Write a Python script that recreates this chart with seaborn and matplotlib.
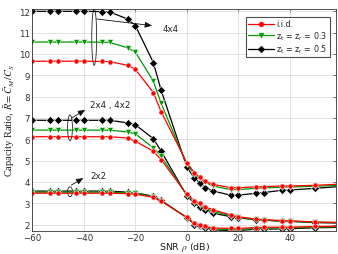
import numpy as np
import pandas as pd
import matplotlib
matplotlib.use("Agg")
import matplotlib.pyplot as plt
from matplotlib.lines import Line2D
from matplotlib.patches import Ellipse
import seaborn as sns

# --- Data ---
snr = [-60, -53, -50, -43, -40, -33, -30, -23, -20, -13, -10, 0, 3, 5, 7, 10, 17, 20, 27, 30, 37, 40, 50, 60]

iid_4x4 = [9.66, 9.66, 9.66, 9.66, 9.66, 9.65, 9.64, 9.47, 9.28, 8.19, 7.30, 4.90, 4.43, 4.23, 4.05, 3.89,
           3.73, 3.73, 3.77, 3.78, 3.81, 3.81, 3.84, 3.90]
z03_4x4 = [10.56, 10.56, 10.56, 10.56, 10.56, 10.55, 10.54, 10.29, 10.09, 8.73, 7.69, 4.82, 4.35, 4.17, 4.00, 3.81,
           3.64, 3.64, 3.70, 3.72, 3.75, 3.76, 3.80, 3.84]
z05_4x4 = [12.0, 12.0, 12.0, 12.0, 12.0, 11.99, 11.97, 11.64, 11.33, 9.60, 8.31, 4.70, 4.17, 3.97, 3.73, 3.58,
           3.38, 3.38, 3.47, 3.50, 3.61, 3.62, 3.70, 3.79]

iid_2x4 = [6.12, 6.12, 6.12, 6.12, 6.12, 6.12, 6.12, 6.06, 5.91, 5.44, 5.05, 3.42, 3.11, 2.99, 2.84, 2.70,
           2.45, 2.37, 2.26, 2.23, 2.19, 2.18, 2.12, 2.10]
z03_2x4 = [6.43, 6.43, 6.43, 6.43, 6.43, 6.43, 6.43, 6.34, 6.25, 5.60, 5.21, 3.39, 3.05, 2.92, 2.77, 2.63,
           2.41, 2.34, 2.24, 2.21, 2.17, 2.16, 2.11, 2.09]
z05_2x4 = [6.89, 6.89, 6.89, 6.89, 6.89, 6.89, 6.89, 6.77, 6.68, 6.03, 5.45, 3.35, 2.99, 2.84, 2.68, 2.54,
           2.37, 2.31, 2.23, 2.21, 2.15, 2.15, 2.09, 2.07]

iid_2x2 = [3.47, 3.47, 3.47, 3.47, 3.47, 3.47, 3.47, 3.45, 3.42, 3.28, 3.10, 2.34, 2.06, 1.98, 1.91, 1.84,
           1.82, 1.82, 1.86, 1.87, 1.88, 1.88, 1.91, 1.93]
z03_2x2 = [3.52, 3.52, 3.52, 3.52, 3.52, 3.52, 3.52, 3.49, 3.46, 3.31, 3.12, 2.33, 2.03, 1.95, 1.88, 1.80,
           1.77, 1.77, 1.82, 1.83, 1.85, 1.85, 1.88, 1.90]
z05_2x2 = [3.57, 3.57, 3.57, 3.57, 3.57, 3.57, 3.57, 3.52, 3.49, 3.33, 3.14, 2.32, 2.00, 1.91, 1.84, 1.75,
           1.72, 1.72, 1.78, 1.78, 1.80, 1.81, 1.85, 1.87]

models = ['i.i.d.', 'z$\\mathregular{_t}$ = z$\\mathregular{_r}$ = 0.3',
          'z$\\mathregular{_t}$ = z$\\mathregular{_r}$ = 0.5']
series = {
    ('4x4', models[2]): z05_4x4, ('4x4', models[1]): z03_4x4, ('4x4', models[0]): iid_4x4,
    ('2x4', models[2]): z05_2x4, ('2x4', models[1]): z03_2x4, ('2x4', models[0]): iid_2x4,
    ('2x2', models[2]): z05_2x2, ('2x2', models[1]): z03_2x2, ('2x2', models[0]): iid_2x2,
}

rows = []
for (cfg, model), vals in series.items():
    for x, y in zip(snr, vals):
        rows.append({'snr': x, 'ratio': y, 'config': cfg, 'model': model})
df = pd.DataFrame(rows)

colors = {models[0]: '#ff0000', models[1]: '#009900', models[2]: '#000000'}
markers = {models[0]: 'o', models[1]: 'v', models[2]: 'D'}

# --- Plot ---
sns.set_theme(style='white')
plt.rcParams['font.family'] = ['DejaVu Sans']
plt.rcParams['mathtext.fontset'] = 'stix'

fig = plt.figure(figsize=(3.38, 2.55), dpi=100)
ax = fig.add_axes([0.096, 0.092, 0.898, 0.868])

sns.lineplot(data=df, x='snr', y='ratio', hue='model', style='model', units='config',
             estimator=None, palette=colors, markers=markers, dashes=False, legend=False,
             linewidth=0.9, markersize=3.7, markeredgewidth=0.4, ax=ax, sort=False)

ax.set_xlim(-60, 58)
ax.set_ylim(1.72, 12.1)
ax.set_xticks([-60, -40, -20, 0, 20, 40])
ax.set_yticks(range(2, 13))
ax.grid(True, color='#dddddd', linewidth=0.6)
ax.tick_params(direction='in', length=2.5, width=0.5, labelsize=6.2, colors='#333333',
               top=True, right=True, pad=2)
ax.tick_params(axis='x', pad=1.5)
for s in ax.spines.values():
    s.set_color('#333333')
    s.set_linewidth(0.6)

ax.set_xlabel('SNR $\\rho$ (dB)', fontsize=6.8, labelpad=-1, color='#222222')
ax.set_ylabel('Capacity Ratio, $\\bar{R} = \\bar{C}_M / C_S$', fontsize=7.5, labelpad=1,
              family='Liberation Serif', color='#222222')

# --- Annotations ---
for xc, yc, h in [(-36, 10.79, 2.64), (-45.4, 6.54, 1.2), (-45.4, 3.54, 0.46)]:
    ax.add_patch(Ellipse((xc, yc), width=1.9, height=h, fill=False, lw=0.6, ec='#222222'))

arrow = dict(arrowstyle='-|>,head_length=0.6,head_width=0.25', color='#111111', lw=0.6,
             mutation_scale=7, shrinkA=0, shrinkB=0)
ax.annotate('', xy=(-13.5, 11.33), xytext=(-35, 11.64), arrowprops=arrow)
ax.annotate('', xy=(-39.5, 7.38), xytext=(-44.7, 7.0), arrowprops=arrow)
ax.annotate('', xy=(-40.2, 4.18), xytext=(-44.9, 3.85), arrowprops=arrow)
ax.text(-9.3, 11.18, '4x4', fontsize=6.2, va='center', color='#222222')
ax.text(-37.6, 7.63, '2x4 , 4x2', fontsize=6.2, va='center', color='#222222')
ax.text(-37.6, 4.3, '2x2', fontsize=6.2, va='center', color='#222222')

handles = [Line2D([], [], color=colors[m], marker=markers[m], markersize=3.4, lw=0.9,
                  markeredgewidth=0.4) for m in models]
leg = ax.legend(handles, models, loc='upper right', fontsize=5.8, frameon=True, fancybox=False,
                borderpad=0.3, labelspacing=0.1, handlelength=3.2, handletextpad=0.3,
                bbox_to_anchor=(0.98, 0.965), borderaxespad=0)
leg.get_frame().set_edgecolor('#222222')
leg.get_frame().set_linewidth(0.8)

fig.savefig('out.png', dpi=100)
